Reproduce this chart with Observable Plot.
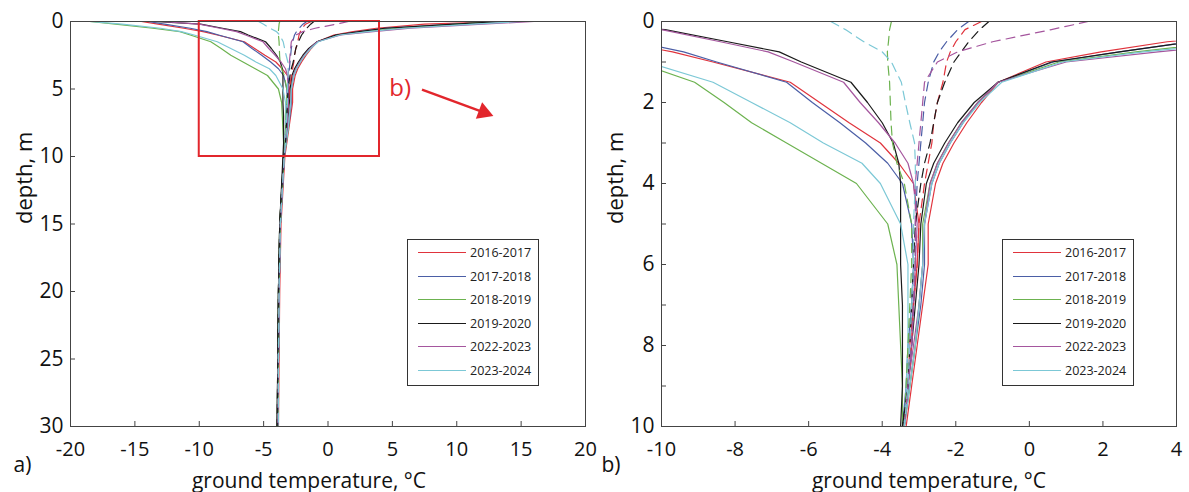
<!DOCTYPE html>
<html>
<head>
<meta charset="utf-8">
<script src="https://cdn.jsdelivr.net/npm/d3@7"></script>
<script src="https://cdn.jsdelivr.net/npm/@observablehq/plot@0.6"></script>
<style>
  html, body { margin: 0; padding: 0; background: #fff; }
  #wrap { position: relative; width: 1189px; height: 492px; overflow: hidden; font-family: "Open Sans", sans-serif; }
  #wrap svg { position: absolute; top: 0; }
  .legend { position: absolute; width: 132px; height: 147px; border: 1px solid #333; background: #fff; box-sizing: border-box; }
  .legend .row { position: absolute; left: 0; height: 0; width: 100%; }
  .legend .swatch { position: absolute; left: 10px; width: 48px; top: -1px; height: 0; border-top: 1.5px solid; }
  .legend .lab { position: absolute; left: 62px; top: -9px; font-size: 12.5px; line-height: 18px; white-space: nowrap; color: #222; }
</style>
</head>
<body>
<div id="wrap"></div>
<script>
// ---------------- data ----------------
const periods = ["2016-2017", "2017-2018", "2018-2019", "2019-2020", "2022-2023", "2023-2024"];
const colors  = ["#e0333c", "#4b5ea6", "#6cb24f", "#1a1a1a", "#a5569e", "#7cc8d6"];

const depths = [0, 0.2, 0.5, 0.75, 1, 1.5, 2, 2.5, 3, 3.5, 4, 5, 6, 7, 8, 9, 10, 15, 20, 25, 30];

// minimum (solid, left branch)
const min_2016_2017 = [-14.5, -13.2, -11.2, -9.7, -8.6, -6.5, -5.7, -4.9, -4.05, -3.55, -3.15, -3.0, -3.05, -3.15, -3.25, -3.3, -3.4, -3.7, -3.8, -3.85, -3.9];
const min_2017_2018 = [-14.0, -12.7, -10.7, -9.4, -8.5, -6.6, -5.9, -5.15, -4.45, -3.85, -3.45, -3.2, -3.15, -3.2, -3.3, -3.35, -3.45, -3.7, -3.8, -3.85, -3.9];
const min_2018_2019 = [-18.5, -16.5, -13.6, -11.5, -10.7, -9.1, -8.3, -7.55, -6.6, -5.65, -4.7, -3.85, -3.6, -3.55, -3.5, -3.45, -3.45, -3.75, -3.85, -3.9, -3.95];
const min_2019_2020 = [-13.5, -9.9, -8.2, -6.8, -6.2, -4.85, -4.4, -4.0, -3.7, -3.55, -3.5, -3.5, -3.5, -3.45, -3.45, -3.45, -3.5, -3.75, -3.85, -3.9, -3.95];
const min_2022_2023 = [-13.0, -10.0, -8.4, -7.1, -6.4, -5.05, -4.6, -4.1, -3.65, -3.3, -3.15, -3.05, -3.1, -3.15, -3.2, -3.3, -3.4, -3.7, -3.8, -3.85, -3.9];
const min_2023_2024 = [-18.5, -16.0, -13.0, -11.4, -10.4, -8.6, -7.55, -6.5, -5.6, -4.55, -4.05, -3.5, -3.3, -3.3, -3.3, -3.35, -3.4, -3.7, -3.8, -3.85, -3.85];

// maximum (solid, right branch)
const max_2016_2017 = [14.0, 7.5, 3.75, 1.95, 0.45, -0.85, -1.3, -1.7, -2.05, -2.35, -2.55, -2.75, -2.75, -2.9, -3.05, -3.2, -3.35, -3.65, -3.75, -3.8, -3.85];
const max_2017_2018 = [13.5, 9.8, 4.4, 2.45, 0.65, -0.85, -1.4, -1.8, -2.15, -2.45, -2.65, -2.85, -2.85, -2.95, -3.1, -3.25, -3.4, -3.7, -3.8, -3.85, -3.9];
const max_2018_2019 = [13.0, 10.0, 5.4, 2.9, 0.8, -0.85, -1.4, -1.85, -2.2, -2.5, -2.7, -2.9, -2.9, -3.0, -3.1, -3.25, -3.4, -3.7, -3.8, -3.85, -3.9];
const max_2019_2020 = [13.5, 9.8, 4.4, 2.45, 0.6, -0.85, -1.5, -1.95, -2.3, -2.6, -2.8, -2.95, -3.0, -3.1, -3.2, -3.3, -3.45, -3.75, -3.85, -3.9, -3.95];
const max_2022_2023 = [16.0, 12.0, 6.4, 3.5, 1.0, -0.85, -1.4, -1.85, -2.2, -2.5, -2.7, -2.85, -2.9, -3.0, -3.15, -3.3, -3.4, -3.7, -3.8, -3.85, -3.9];
const max_2023_2024 = [15.0, 11.3, 5.9, 3.1, 0.9, -0.75, -1.35, -1.8, -2.15, -2.45, -2.65, -2.85, -2.9, -3.0, -3.1, -3.25, -3.4, -3.7, -3.8, -3.85, -3.85];

// mean (dashed)
const mean_2016_2017 = [-1.3, -1.75, -2.0, -2.15, -2.25, -2.35, -2.5, -2.6, -2.65, -2.75, -2.85, -3.0, -3.05, -3.15, -3.2, -3.3, -3.4, -3.7, -3.8, -3.85, -3.9];
const mean_2017_2018 = [-1.65, -1.95, -2.25, -2.45, -2.6, -2.75, -2.85, -2.9, -2.95, -3.0, -3.05, -3.1, -3.1, -3.15, -3.2, -3.3, -3.4, -3.7, -3.8, -3.85, -3.9];
const mean_2018_2019 = [-3.75, -3.8, -3.83, -3.86, -3.85, -3.8, -3.78, -3.76, -3.72, -3.6, -3.4, -3.2, -3.2, -3.25, -3.3, -3.35, -3.4, -3.7, -3.8, -3.85, -3.9];
const mean_2019_2020 = [-1.1, -1.35, -1.65, -1.85, -2.05, -2.3, -2.5, -2.6, -2.7, -2.85, -2.95, -3.1, -3.15, -3.2, -3.25, -3.3, -3.45, -3.75, -3.85, -3.9, -3.95];
const mean_2022_2023 = [1.6, 0.6, -1.0, -1.95, -2.5, -2.85, -2.9, -2.95, -3.0, -3.05, -3.1, -3.1, -3.1, -3.15, -3.2, -3.3, -3.4, -3.7, -3.8, -3.85, -3.9];
const mean_2023_2024 = [-5.4, -5.0, -4.5, -4.0, -3.75, -3.48, -3.37, -3.25, -3.12, -3.1, -3.1, -3.15, -3.15, -3.2, -3.25, -3.3, -3.4, -3.7, -3.8, -3.85, -3.85];

// axis ticks
const ticksA_x = [-20, -15, -10, -5, 0, 5, 10, 15, 20];
const ticksA_y = [0, 5, 10, 15, 20, 25, 30];
const ticksB_x = [-10, -8, -6, -4, -2, 0, 2, 4];
const ticksB_y = [0, 2, 4, 6, 8, 10];
const ticksB_yMinor = [1, 3, 5, 7, 9];

// zoom box & annotation (panel a, data units)
const zoomBox = [{x1: -10, x2: 4, y1: 0, y2: 10}];
const zoomLabel = [{x: 5.6, y: 4.97, text: "b)"}];
const arrowShaft = [{x1: 7.3, y1: 5.05, x2: 12.1, y2: 6.73}];
const arrowHead = [{x: 12.1, y: 6.73}];

// ---------------- build ----------------
const mins = [min_2016_2017, min_2017_2018, min_2018_2019, min_2019_2020, min_2022_2023, min_2023_2024];
const maxs = [max_2016_2017, max_2017_2018, max_2018_2019, max_2019_2020, max_2022_2023, max_2023_2024];
const means = [mean_2016_2017, mean_2017_2018, mean_2018_2019, mean_2019_2020, mean_2022_2023, mean_2023_2024];

const rows = [];
periods.forEach((p, i) => {
  [["min", mins[i]], ["max", maxs[i]], ["mean", means[i]]].forEach(([kind, arr]) => {
    depths.forEach((d, j) => rows.push({period: p, kind, key: p + "-" + kind, depth: d, temp: arr[j]}));
  });
});
const solidRows = rows.filter(r => r.kind !== "mean");
const dashRows = rows.filter(r => r.kind === "mean");

const FONT = "'Open Sans', sans-serif";
const RED = "#e2262c";
const fmt = d => String(d);

function panel(o) {
  return Plot.plot({
    width: o.width, height: 492,
    marginLeft: o.ml, marginRight: o.mr, marginTop: 21, marginBottom: 66,
    style: {fontFamily: FONT, fontSize: "21px", background: "transparent", color: "#111", overflow: "visible"},
    x: {domain: o.xDomain},
    y: {domain: o.yDomain, reverse: true},
    color: {domain: periods, range: colors},
    marks: [
      Plot.line(solidRows, {x: "temp", y: "depth", z: "key", stroke: "period", strokeWidth: 1.2, clip: true}),
      Plot.line(dashRows, {x: "temp", y: "depth", z: "key", stroke: "period", strokeWidth: 1.2, strokeDasharray: "9,6", clip: true}),
      ...(o.after || []),
      Plot.frame({stroke: "#444", strokeWidth: 1}),
      Plot.axisX({ticks: o.xTicks, tickSize: -5, tickPadding: 20, tickFormat: fmt, label: null, stroke: "#444", fontSize: 20}),
      Plot.axisY({ticks: o.yTicks, tickSize: -5, tickPadding: 12, tickFormat: fmt, label: null, stroke: "#444", fontSize: 21}),
      ...(o.yMinor ? [Plot.axisY({ticks: o.yMinor, tickSize: -5, tickFormat: () => "", label: null, stroke: "#444"})] : []),
      Plot.text(["ground temperature, °C"], {frameAnchor: "bottom", dx: o.xlabDx, dy: 61, fontSize: 21, fill: "#111"}),
      Plot.text(["depth, m"], {frameAnchor: "left", dx: o.ylabDx, rotate: -90, fontSize: 22, fill: "#111"}),
      Plot.text([o.tag], {frameAnchor: "bottom-left", dx: o.tagDx, dy: 45, fontSize: 21, fill: "#111"})
    ]
  });
}

const svgA = panel({
  width: 594, ml: 70, mr: 9,
  xDomain: [-20, 20], yDomain: [0, 30],
  xTicks: ticksA_x, yTicks: ticksA_y,
  xlabDx: -19, ylabDx: -46, tag: "a)", tagDx: -57,
  after: [
    Plot.rect(zoomBox, {x1: "x1", x2: "x2", y1: "y1", y2: "y2", fill: "none", stroke: RED, strokeWidth: 2}),
    Plot.text(zoomLabel, {x: "x", y: "y", text: "text", fill: RED, fontSize: 24}),
    Plot.link(arrowShaft, {x1: "x1", y1: "y1", x2: "x2", y2: "y2", stroke: RED, strokeWidth: 2.5}),
    Plot.dot(arrowHead, {x: "x", y: "y", symbol: "triangle2", r: 8.5, fill: RED, stroke: "none", rotate: 110.7})
  ]
});
const svgB = panel({
  width: 595, ml: 67, mr: 13,
  xDomain: [-10, 4], yDomain: [0, 10],
  xTicks: ticksB_x, yTicks: ticksB_y, yMinor: ticksB_yMinor,
  xlabDx: 10, ylabDx: -46, tag: "b)", tagDx: -60
});
svgB.style.left = "594px";
svgA.style.left = "0px";

const wrap = document.getElementById("wrap");
wrap.appendChild(svgA);
wrap.appendChild(svgB);

function legend(left, top) {
  const box = document.createElement("div");
  box.className = "legend";
  box.style.left = left + "px";
  box.style.top = top + "px";
  periods.forEach((p, i) => {
    const row = document.createElement("div");
    row.className = "row";
    row.style.top = (13 + i * 23.6) + "px";
    const sw = document.createElement("div");
    sw.className = "swatch";
    sw.style.borderTopColor = colors[i];
    const lab = document.createElement("div");
    lab.className = "lab";
    lab.textContent = p;
    row.appendChild(sw);
    row.appendChild(lab);
    box.appendChild(row);
  });
  wrap.appendChild(box);
}
legend(407, 239);
legend(1002, 239);
</script>
</body>
</html>
